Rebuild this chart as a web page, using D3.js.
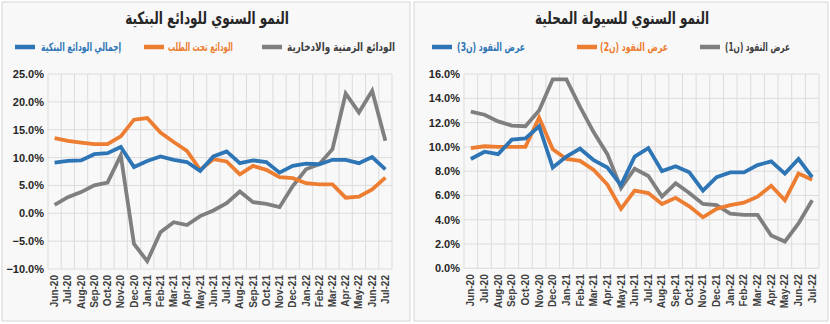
<!DOCTYPE html>
<html><head><meta charset="utf-8">
<script src="https://cdn.jsdelivr.net/npm/d3@7/dist/d3.min.js"></script>
<style>
body{margin:0;background:#ffffff;}
svg{display:block;}
</style></head>
<body>
<script>
const months = ["Jun-20","Jul-20","Aug-20","Sep-20","Oct-20","Nov-20","Dec-20","Jan-21","Feb-21","Mar-21","Apr-21","May-21","Jun-21","Jul-21","Aug-21","Sep-21","Oct-21","Nov-21","Dec-21","Jan-22","Feb-22","Mar-22","Apr-22","May-22","Jun-22","Jul-22"];

// Left chart: bank deposits annual growth (%)
const totalDeposits = [9.1,9.4,9.5,10.6,10.8,11.9,8.3,9.4,10.2,9.6,9.2,7.6,10.2,11.1,9.0,9.5,9.2,7.3,8.5,8.9,8.8,9.6,9.6,9.0,10.1,7.9];
const demandDeposits = [13.5,13.0,12.7,12.4,12.4,13.8,16.8,17.1,14.5,12.8,11.2,7.8,9.7,9.3,7.0,8.5,7.8,6.5,6.3,5.4,5.2,5.2,2.8,3.0,4.3,6.4];
const timeSavingsDeposits = [1.5,2.9,3.8,5.0,5.5,10.4,-5.5,-8.6,-3.4,-1.6,-2.1,-0.5,0.5,1.8,3.9,2.0,1.7,1.1,4.9,7.9,8.8,11.5,21.5,18.1,22.0,13.0];
const leftTicks = [-10,-5,0,5,10,15,20,25];

// Right chart: domestic liquidity annual growth (%)
const m3 = [9.0,9.6,9.4,10.6,10.7,11.7,8.3,9.2,9.85,8.9,8.3,6.85,9.2,9.9,8.0,8.4,7.9,6.4,7.5,7.9,7.9,8.5,8.8,7.8,9.0,7.5];
const m2 = [9.9,10.05,10.0,10.0,10.0,12.4,9.8,9.0,8.85,8.1,6.9,4.9,6.4,6.2,5.3,5.8,5.1,4.2,4.9,5.2,5.4,5.9,6.8,5.6,7.8,7.3];
const m1 = [12.9,12.65,12.1,11.75,11.7,13.0,15.55,15.55,13.3,11.2,9.4,6.6,8.2,7.6,5.9,7.0,6.2,5.3,5.2,4.5,4.4,4.4,2.7,2.2,3.7,5.6];
const rightTicks = [0,2,4,6,8,10,12,14,16];

const leftTitle = "النمو السنوي للودائع البنكية";
const rightTitle = "النمو السنوي للسيولة المحلية";
const leftLegend = ["الودائع الزمنية والادخارية","الودائع تحت الطلب","إجمالي الودائع البنكية"];
const rightLegend = ["عرض النقود (ن1)","عرض النقود (ن2)","عرض النقود (ن3)"];

const GRAY = "#7f7f7f", ORANGE = "#ed7d31", BLUE = "#2e75b6";
const AR = "'DejaVu Sans', sans-serif";
const LAT = "'Liberation Sans', Arial, sans-serif";

const svg = d3.select("body").append("svg").attr("width",830).attr("height",324);

// place RTL text whose right edge is at xr, squeezed horizontally to width w
function arText(g, xr, y, w, size, color, txt){
  const holder = g.append("g");
  const t = holder.append("text").attr("x",0).attr("y",0)
    .attr("font-family",AR).attr("font-weight","bold").attr("font-size",size).attr("fill",color)
    .attr("direction","rtl").attr("text-anchor","start").attr("unicode-bidi","embed").text(txt);
  const bb = t.node().getBBox();
  const sx = Math.min(1, w/bb.width);
  holder.attr("transform",`translate(${xr},${y}) scale(${sx},1)`);
  return holder;
}

function panel(cfg){
  const g = svg.append("g");
  g.append("rect").attr("x",cfg.px).attr("y",2).attr("width",cfg.pw).attr("height",319)
    .attr("fill","#f8f8f8").attr("stroke","#d6d6d6").attr("stroke-width",1);

  const x = d3.scaleBand().domain(months).range([cfg.x0,cfg.x1]).padding(0);
  const y = d3.scaleLinear().domain(cfg.domain).range([cfg.yb,cfg.yt]);

  // grid
  const grid = g.append("g");
  grid.selectAll("line.h").data(cfg.ticks).join("line")
    .attr("x1",cfg.x0).attr("x2",cfg.x1).attr("y1",d=>y(d)).attr("y2",d=>y(d))
    .attr("stroke","#dcdcdc").attr("stroke-width",1);
  const bounds = months.map(m=>x(m)).concat([cfg.x1]);
  grid.selectAll("line.v").data(bounds).join("line")
    .attr("x1",d=>d).attr("x2",d=>d).attr("y1",y(cfg.domain[0])).attr("y2",y(cfg.domain[1]))
    .attr("stroke","#dcdcdc").attr("stroke-width",1);

  // y axis
  const ya = d3.axisLeft(y).tickValues(cfg.ticks).tickSize(0).tickPadding(4).tickFormat(d=>d3.format(".1f")(d)+"%");
  const yg = g.append("g").attr("transform",`translate(${cfg.x0},0)`).call(ya);
  yg.select(".domain").remove();
  yg.selectAll("text").attr("font-family",LAT).attr("font-weight","bold").attr("font-size",11).attr("fill","#262626");

  // x axis
  const xa = d3.axisBottom(x).tickSize(0).tickPadding(0);
  const xg = g.append("g").attr("transform",`translate(0,${cfg.yb})`).call(xa);
  xg.select(".domain").remove();
  xg.selectAll("text").attr("font-family",LAT).attr("font-weight","bold").attr("font-size",10).attr("fill","#404040")
    .attr("transform","rotate(-90)").attr("text-anchor","end").attr("dy","0.35em").attr("x",-6).attr("y",0);

  // lines
  const line = d3.line().x((d,i)=>x(months[i])+x.bandwidth()/2).y(d=>y(d));
  cfg.series.forEach(s=>{
    g.append("path").datum(s.values).attr("d",line).attr("fill","none")
      .attr("stroke",s.color).attr("stroke-width",3.8).attr("stroke-linejoin","miter");
  });

  // title
  arText(g, cfg.tr, 24, cfg.tw, 17, "#262626", cfg.title);

  // legend
  cfg.legend.forEach(l=>{
    g.append("line").attr("x1",l.sx).attr("x2",l.sx+20).attr("y1",47).attr("y2",47)
      .attr("stroke",l.color).attr("stroke-width",4.5);
    arText(g, l.tr, 51, l.tw, 11.5, l.tcolor, l.text);
  });
}

panel({
  px:2, pw:408, x0:48, x1:392, yb:269, yt:74, domain:[-10,25], ticks:leftTicks,
  title:leftTitle, tr:289, tw:164,
  series:[{values:timeSavingsDeposits,color:GRAY},{values:demandDeposits,color:ORANGE},{values:totalDeposits,color:BLUE}],
  legend:[
    {sx:262,tr:395,tw:108,color:GRAY,tcolor:"#404040",text:leftLegend[0]},
    {sx:144,tr:233,tw:65,color:ORANGE,tcolor:ORANGE,text:leftLegend[1]},
    {sx:15,tr:121,tw:80,color:BLUE,tcolor:BLUE,text:leftLegend[2]}
  ]
});
panel({
  px:414, pw:414, x0:464, x1:819, yb:268.3, yt:74, domain:[0,16], ticks:rightTicks,
  title:rightTitle, tr:709, tw:174,
  series:[{values:m1,color:GRAY},{values:m2,color:ORANGE},{values:m3,color:BLUE}],
  legend:[
    {sx:700,tr:790,tw:65,color:GRAY,tcolor:"#404040",text:rightLegend[0]},
    {sx:577,tr:668,tw:68,color:ORANGE,tcolor:ORANGE,text:rightLegend[1]},
    {sx:432,tr:525,tw:68,color:BLUE,tcolor:BLUE,text:rightLegend[2]}
  ]
});
</script>
</body></html>
